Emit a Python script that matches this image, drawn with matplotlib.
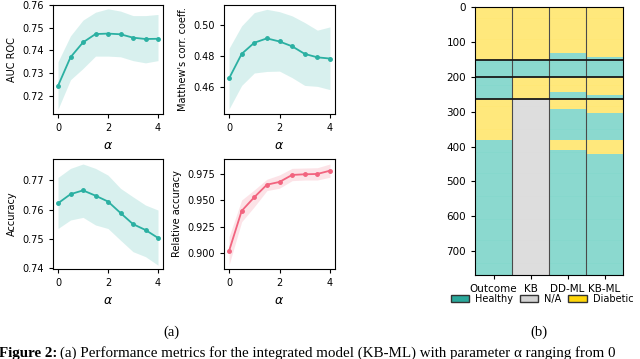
import numpy as np
import matplotlib.pyplot as plt
from matplotlib.colors import ListedColormap
from matplotlib.patches import Patch

# ---- data ----
alpha = [0, 0.5, 1, 1.5, 2, 2.5, 3, 3.5, 4]

auc = [0.7243, 0.7370, 0.7436, 0.7473, 0.7475, 0.7472, 0.7457, 0.7451, 0.7452]
auc_hi = [0.7350, 0.7465, 0.7535, 0.7570, 0.7585, 0.7575, 0.7555, 0.7555, 0.7560]
auc_lo = [0.7139, 0.7270, 0.7320, 0.7375, 0.7375, 0.7372, 0.7355, 0.7345, 0.7355]

mcc = [0.4655, 0.4813, 0.4885, 0.4913, 0.4893, 0.4862, 0.4813, 0.4791, 0.4783]
mcc_hi = [0.4849, 0.4994, 0.5079, 0.5100, 0.5085, 0.5058, 0.5015, 0.4966, 0.4987]
mcc_lo = [0.4458, 0.4610, 0.4690, 0.4700, 0.4702, 0.4660, 0.4610, 0.4604, 0.4583]

acc = [0.7622, 0.7653, 0.7666, 0.7648, 0.7628, 0.7589, 0.7551, 0.7531, 0.7504]
acc_hi = [0.7710, 0.7741, 0.7756, 0.7741, 0.7718, 0.7673, 0.7644, 0.7616, 0.7599]
acc_lo = [0.7536, 0.7565, 0.7574, 0.7548, 0.7536, 0.7496, 0.7457, 0.7440, 0.7411]

rel = [0.9022, 0.9399, 0.9528, 0.9646, 0.9672, 0.9738, 0.9744, 0.9747, 0.9778]
rel_hi = [0.9156, 0.9502, 0.9597, 0.9697, 0.9738, 0.9800, 0.9803, 0.9806, 0.9841]
rel_lo = [0.8890, 0.9297, 0.9438, 0.9590, 0.9613, 0.9684, 0.9690, 0.9690, 0.9716]

# heatmap: segment boundaries (row index) and state per segment
# state codes: 0 = Healthy, 1 = N/A, 2 = Diabetic
n_rows = 768
columns = ['Outcome', 'KB', 'DD-ML', 'KB-ML']
outcome_bounds = [0, 152, 264, 381, 768]
outcome_state = [2, 0, 2, 0]
kb_bounds = [0, 152, 200, 264, 768]
kb_state = [2, 0, 2, 1]
ddml_bounds = [0, 133, 200, 243, 264, 291, 381, 410, 768]
ddml_state = [2, 0, 2, 0, 2, 0, 2, 0]
kbml_bounds = [0, 144, 200, 252, 264, 305, 381, 422, 768]
kbml_state = [2, 0, 2, 0, 2, 0, 2, 0]
group_lines = [152, 200, 264]

teal = '#2bb0a2'
pink = '#f2647f'

plt.rcParams['font.size'] = 7
fig = plt.figure(figsize=(6.4, 3.59), dpi=100)

W, H = 640.0, 359.0
def px_axes(x0, y0, x1, y1):
    return fig.add_axes([x0 / W, 1 - y1 / H, (x1 - x0) / W, (y1 - y0) / H])

panels = [
    ((53, 5, 163, 114), auc, auc_lo, auc_hi, 'AUC ROC', teal, (0.7118, 0.7602), [0.72, 0.73, 0.74, 0.75, 0.76], '%.2f'),
    ((224, 5, 335, 114), mcc, mcc_lo, mcc_hi, "Matthew's corr. coeff.", teal, (0.4426, 0.5128), [0.46, 0.48, 0.50], '%.2f'),
    ((53, 159, 163, 269), acc, acc_lo, acc_hi, 'Accuracy', teal, (0.7398, 0.7773), [0.74, 0.75, 0.76, 0.77], '%.2f'),
    ((224, 159, 335, 269), rel, rel_lo, rel_hi, 'Relative accuracy', pink, (0.8852, 0.9888), [0.900, 0.925, 0.950, 0.975], '%.3f'),
]

for box, y, lo, hi, lab, col, ylim, yt, fmt in panels:
    ax = px_axes(*box)
    ax.fill_between(alpha, lo, hi, color=col, alpha=0.18, linewidth=0)
    ax.plot(alpha, y, color=col, marker='o', markersize=2.5, linewidth=1.3)
    ax.set_xlim(-0.2, 4.2)
    ax.set_ylim(*ylim)
    ax.set_xticks([0, 2, 4])
    ax.set_yticks(yt)
    ax.set_yticklabels([fmt % v for v in yt])
    ax.set_ylabel(lab, fontsize=7)
    ax.set_xlabel(r'$\alpha$', fontsize=9)
    ax.tick_params(labelsize=7, length=3)

# ---- heatmap ----
def build(bounds, states):
    out = np.zeros(n_rows)
    for i, s in enumerate(states):
        out[bounds[i]:bounds[i + 1]] = s
    return out

mat = np.column_stack([build(outcome_bounds, outcome_state),
                       build(kb_bounds, kb_state),
                       build(ddml_bounds, ddml_state),
                       build(kbml_bounds, kbml_state)])

axh = px_axes(475, 7, 623, 275)
cmap = ListedColormap(['#86d8cd', '#dcdcdc', '#ffe777'])
axh.imshow(mat, aspect='auto', cmap=cmap, vmin=-0.5, vmax=2.5,
           interpolation='nearest', extent=(0, 4, n_rows, 0))
for r in range(0, n_rows, 6):
    axh.axhline(r, color='white', linewidth=0.3, alpha=0.2)
for c in [1, 2, 3]:
    axh.axvline(c, color='#4a4a4a', linewidth=0.8)
for g in group_lines:
    axh.axhline(g, color='#1a1a1a', linewidth=1.3)
axh.set_xlim(0, 4)
axh.set_ylim(n_rows, 0)
axh.set_xticks([0.5, 1.5, 2.5, 3.5])
axh.set_xticklabels(columns, fontsize=7.5)
axh.set_yticks(range(0, 800, 100))
axh.tick_params(labelsize=7.5, length=3)

handles = [Patch(facecolor='#2aa89b', edgecolor='#333333', label='Healthy'),
           Patch(facecolor='#d3d3d3', edgecolor='#333333', label='N/A'),
           Patch(facecolor='#ffd60a', edgecolor='#333333', label='Diabetic')]
fig.legend(handles=handles, loc='center', bbox_to_anchor=(542 / W, 1 - 299 / H),
           ncol=3, frameon=False, fontsize=7, handlelength=1.9, handleheight=0.6,
           columnspacing=0.7, handletextpad=0.6, borderpad=0.1)

# ---- sub-captions and caption ----
fig.text(171 / W, 1 - 332 / H, '(a)', ha='center', va='center',
         family='Liberation Serif', fontsize=10.5)
fig.text(539 / W, 1 - 332 / H, '(b)', ha='center', va='center',
         family='Liberation Serif', fontsize=10.5)
cap_y = 1 - 357 / H
head = fig.text(-1 / W, cap_y, 'Figure 2:', ha='left', va='baseline',
                family='Liberation Serif', fontsize=10.8, weight='bold')
r = fig.canvas.get_renderer()
bb = head.get_window_extent(r)
fig.text((bb.x1 + 3) / W, cap_y,
         '(a) Performance metrics for the integrated model (KB-ML) with parameter α ranging from 0',
         ha='left', va='baseline', family='Liberation Serif', fontsize=10.8)

fig.savefig('out.png', dpi=100)
